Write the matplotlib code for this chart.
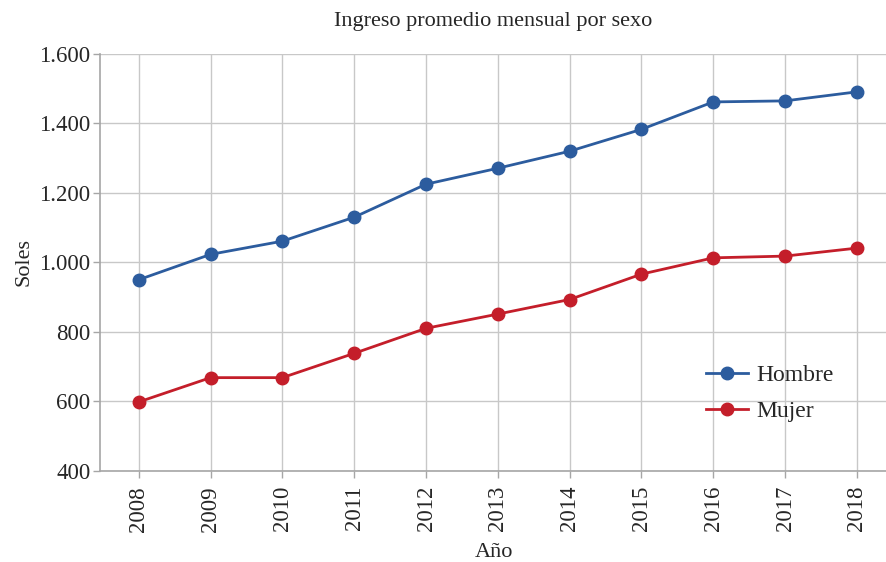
import matplotlib
matplotlib.use("Agg")
import matplotlib.pyplot as plt

years = [2008, 2009, 2010, 2011, 2012, 2013, 2014, 2015, 2016, 2017, 2018]
hombre = [950, 1023, 1061, 1130, 1225, 1271, 1320, 1383, 1462, 1465, 1491]
mujer = [598, 668, 668, 738, 810, 851, 893, 966, 1013, 1018, 1041]

plt.rcParams["font.family"] = ["Liberation Serif", "DejaVu Serif"]

fig = plt.figure(figsize=(8.87, 5.62), dpi=100)
ax = fig.add_axes([100 / 887, 1 - 470.7 / 562, 787 / 887, (470.7 - 54) / 562])

ax.plot(years, hombre, color="#2C5C9E", lw=2.0, marker="o", ms=9, label="Hombre", zorder=3)
ax.plot(years, mujer, color="#C41E2A", lw=2.0, marker="o", ms=9, label="Mujer", zorder=3)

ax.set_xlim(2007.46, 2018.42)
ax.set_ylim(400, 1600)
ax.set_xticks(years)
ax.set_xticklabels([str(y) for y in years], rotation=90)
ax.set_yticks(range(400, 1601, 200))
ax.set_yticklabels([f"{v:,}".replace(",", ".") for v in range(400, 1601, 200)])

ax.grid(True, color="#C8C8C8", lw=1.0)
ax.set_axisbelow(True)
for s in ["top", "right"]:
    ax.spines[s].set_visible(False)
for s in ["left", "bottom"]:
    ax.spines[s].set_color("#A6A6A6")
    ax.spines[s].set_linewidth(1.2)
ax.tick_params(axis="both", colors="#A6A6A6", length=5, width=1.0, labelsize=16.5, labelcolor="#262626")
ax.tick_params(axis="y", pad=2)
ax.tick_params(axis="x", pad=6)

ax.set_title("Ingreso promedio mensual por sexo", fontsize=16, color="#262626", pad=20)
ax.set_ylabel("Soles", fontsize=16, color="#262626", labelpad=4)
ax.set_xlabel("Año", fontsize=16, color="#262626", labelpad=8)

leg = ax.legend(loc="upper left", bbox_to_anchor=(0.758, 0.277), frameon=False, fontsize=17,
                handlelength=1.8, handletextpad=0.35, labelspacing=0.62, borderaxespad=0)
for t in leg.get_texts():
    t.set_color("#262626")

fig.savefig("out.png", dpi=100)
